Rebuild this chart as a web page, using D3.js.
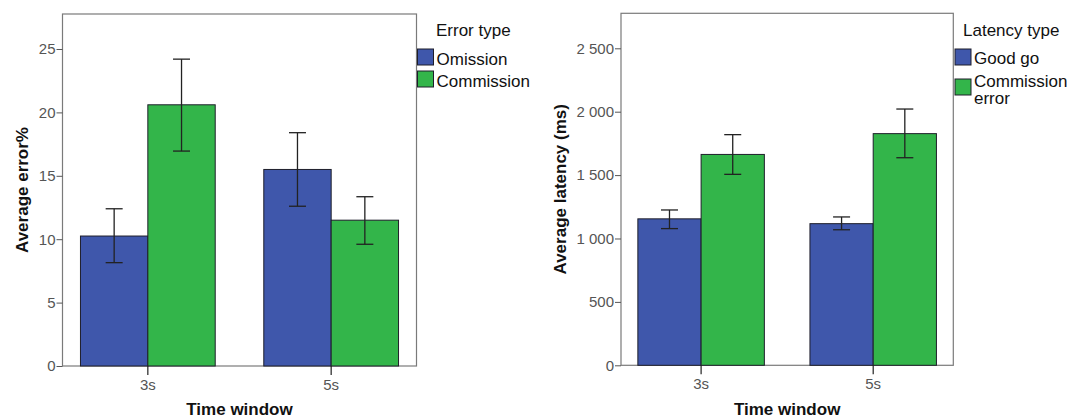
<!DOCTYPE html>
<html>
<head>
<meta charset="utf-8">
<script src="https://cdn.jsdelivr.net/npm/d3@7"></script>
<style>
  body { margin: 0; background: #fff; }
  text { font-family: "Liberation Sans", Arial, sans-serif; }
</style>
</head>
<body>
<script>
// data
var windows = ["3s", "5s"];

var errorTypes = ["Omission", "Commission"];
var errorMean = [[10.25, 20.6], [15.5, 11.5]];      // [window][type]
var errorLo   = [[8.15, 16.95], [12.6, 9.6]];
var errorHi   = [[12.4, 24.2], [18.4, 13.35]];
var errorTicks = [0, 5, 10, 15, 20, 25];

var latencyTypes = ["Good go", "Commission error"];
var latencyMean = [[1155, 1663], [1117, 1827]];
var latencyLo   = [[1078, 1506], [1069, 1637]];
var latencyHi   = [[1225, 1819], [1170, 2021]];
var latencyTicks = [0, 500, 1000, 1500, 2000, 2500];

var colors = ["#3f57ab", "#33b54a"];

var fmt = d3.formatLocale({decimal: ".", thousands: " ", grouping: [3], currency: ["", ""]}).format(",");

var svg = d3.select("body").append("svg")
    .attr("width", 1069)
    .attr("height", 418);

function panel(opt) {
  var g = svg.append("g");

  var x0 = d3.scaleBand()
      .domain(windows)
      .range([opt.left, opt.right])
      .paddingInner(0.265)
      .paddingOuter(0.098);
  var x1 = d3.scaleBand()
      .domain(d3.range(opt.types.length))
      .range([0, x0.bandwidth()]);
  var y = d3.scaleLinear()
      .domain([0, opt.ymax])
      .range([opt.bottom, opt.top]);

  // frame
  g.append("rect")
    .attr("x", opt.left).attr("y", opt.top)
    .attr("width", opt.right - opt.left)
    .attr("height", opt.bottom - opt.top)
    .attr("fill", "none").attr("stroke", "#7a7a7a").attr("stroke-width", 1.2);

  // bars
  windows.forEach(function(w, wi) {
    var bg = g.append("g").attr("transform", "translate(" + x0(w) + ",0)");
    bg.selectAll("rect.bar")
      .data(opt.mean[wi])
      .enter().append("rect")
      .attr("class", "bar")
      .attr("x", (d, i) => x1(i))
      .attr("y", d => y(d))
      .attr("width", x1.bandwidth())
      .attr("height", d => y(0) - y(d))
      .attr("fill", (d, i) => colors[i])
      .attr("stroke", "#1e1e2a")
      .attr("stroke-width", 1);

    // error bars
    var eb = bg.selectAll("g.err")
      .data(opt.mean[wi].map((d, i) => ({i: i, lo: opt.lo[wi][i], hi: opt.hi[wi][i]})))
      .enter().append("g")
      .attr("class", "err")
      .attr("stroke", "#222")
      .attr("stroke-width", 1.3);
    eb.append("line")
      .attr("x1", d => x1(d.i) + x1.bandwidth() / 2)
      .attr("x2", d => x1(d.i) + x1.bandwidth() / 2)
      .attr("y1", d => y(d.lo))
      .attr("y2", d => y(d.hi));
    ["lo", "hi"].forEach(function(k) {
      eb.append("line")
        .attr("x1", d => x1(d.i) + x1.bandwidth() / 2 - 8.5)
        .attr("x2", d => x1(d.i) + x1.bandwidth() / 2 + 8.5)
        .attr("y1", d => y(d[k]))
        .attr("y2", d => y(d[k]));
    });
  });

  // y axis
  var yAxis = d3.axisLeft(y)
      .tickValues(opt.ticks)
      .tickSize(6)
      .tickPadding(1)
      .tickFormat(fmt);
  var ya = g.append("g")
    .attr("transform", "translate(" + opt.left + ",0)")
    .call(yAxis);
  ya.select(".domain").remove();
  ya.selectAll("line").attr("stroke", "#555");
  ya.selectAll("text")
    .style("fill", "#555")
    .style("font-size", "15px")
    .style("font-family", "Liberation Sans, Arial, sans-serif");

  // x axis
  var xAxis = d3.axisBottom(x0)
      .tickSize(9)
      .tickPadding(4);
  var xa = g.append("g")
    .attr("transform", "translate(0," + opt.bottom + ")")
    .call(xAxis);
  xa.select(".domain").remove();
  xa.selectAll("line").attr("stroke", "#222").attr("stroke-width", 1.2);
  xa.selectAll("text")
    .style("fill", "#555")
    .style("font-size", "15px")
    .style("font-family", "Liberation Sans, Arial, sans-serif");

  // axis titles
  g.append("text")
    .attr("x", (opt.left + opt.right) / 2)
    .attr("y", 415)
    .attr("text-anchor", "middle")
    .attr("font-size", "17px")
    .attr("font-weight", "bold")
    .attr("fill", "#111")
    .text("Time window");
  g.append("text")
    .attr("transform", "translate(" + opt.ytitleX + "," + ((opt.top + opt.bottom) / 2) + ") rotate(-90)")
    .attr("text-anchor", "middle")
    .attr("font-size", "17px")
    .attr("font-weight", "bold")
    .attr("fill", "#111")
    .text(opt.ytitle);

  // legend
  var lg = g.append("g");
  lg.append("text")
    .attr("x", opt.legTitleX)
    .attr("y", 36)
    .attr("font-size", "17px")
    .attr("fill", "#111")
    .text(opt.legTitle);
  opt.types.forEach(function(t, i) {
    lg.append("rect")
      .attr("x", opt.legX)
      .attr("y", opt.swY[i])
      .attr("width", 16)
      .attr("height", 16)
      .attr("fill", colors[i])
      .attr("stroke", "#1e1e2a")
      .attr("stroke-width", 1);
    var tx = lg.append("text")
      .attr("x", opt.legX + 19)
      .attr("y", opt.txY[i])
      .attr("font-size", "17px")
      .attr("fill", "#111");
    var lines = opt.wrap && t.length > 12 ? t.split(" ") : [t];
    lines.forEach(function(l, j) {
      tx.append("tspan")
        .attr("x", opt.legX + 19)
        .attr("dy", j === 0 ? 0 : 17.5)
        .text(l);
    });
  });
}

panel({
  left: 62.5, right: 416.5, top: 14, bottom: 366,
  ymax: 27.76, ticks: errorTicks,
  types: errorTypes, mean: errorMean, lo: errorLo, hi: errorHi,
  ytitle: "Average error%", ytitleX: 28,
  legTitle: "Error type", legTitleX: 436, legX: 417.5, swY: [49, 71], txY: [64.5, 86.5], wrap: false
});

panel({
  left: 621, right: 953.3, top: 13.3, bottom: 365.3,
  ymax: 2776, ticks: latencyTicks,
  types: latencyTypes, mean: latencyMean, lo: latencyLo, hi: latencyHi,
  ytitle: "Average latency (ms)", ytitleX: 566,
  legTitle: "Latency type", legTitleX: 963, legX: 955, swY: [49, 79], txY: [63.5, 86.5], wrap: true
});
</script>
</body>
</html>
